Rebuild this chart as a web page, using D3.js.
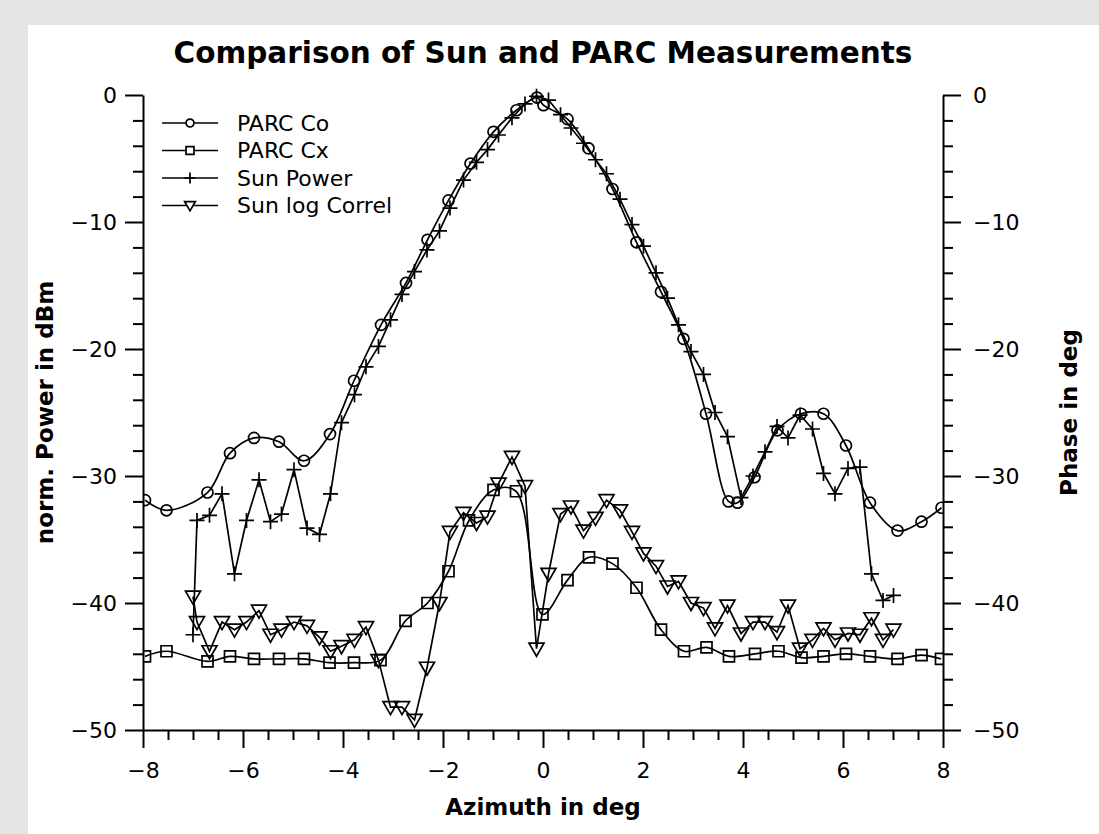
<!DOCTYPE html>
<html>
<head>
<meta charset="utf-8">
<script src="https://cdn.jsdelivr.net/npm/d3@7"></script>
<style>
  html, body { margin: 0; padding: 0; background: #e4e4e4; }
  svg { display: block; }
  text { font-family: "DejaVu Sans", sans-serif; fill: #000; }
</style>
</head>
<body>
<svg id="chart" width="1099" height="834"></svg>
<script>
// Azimuth samples (deg) for the PARC measurements
const parcCoAz = [-7.96, -7.53, -6.71, -6.26, -5.78, -5.28, -4.78, -4.26, -3.78, -3.24,
  -2.74, -2.31, -1.89, -1.45, -0.99, -0.53, -0.12, 0.01, 0.49, 0.91, 1.39, 1.87, 2.36,
  2.81, 3.26, 3.71, 3.89, 4.23, 4.69, 5.16, 5.61, 6.06, 6.54, 7.09, 7.57, 7.97];
const parcCo = [-31.9, -32.7, -31.3, -28.2, -27.0, -27.3, -28.8, -26.7, -22.5, -18.1,
  -14.8, -11.4, -8.3, -5.4, -2.9, -1.2, -0.2, -0.8, -1.9, -4.2, -7.4, -11.6, -15.5,
  -19.2, -25.1, -32.0, -32.1, -30.1, -26.4, -25.1, -25.1, -27.6, -32.1, -34.3, -33.6, -32.5];

const parcCxAz = [-7.96, -7.53, -6.71, -6.26, -5.78, -5.28, -4.78, -4.27, -3.78, -3.25,
  -2.75, -2.31, -1.89, -1.48, -0.99, -0.54, -0.01, 0.49, 0.92, 1.39, 1.87, 2.36, 2.82,
  3.27, 3.72, 4.24, 4.71, 5.17, 5.61, 6.06, 6.54, 7.09, 7.57, 7.96];
const parcCx = [-44.2, -43.8, -44.6, -44.2, -44.4, -44.4, -44.4, -44.7, -44.7, -44.5,
  -41.4, -40.0, -37.5, -33.5, -31.1, -31.2, -40.9, -38.2, -36.4, -36.9, -38.8, -42.1, -43.8,
  -43.5, -44.2, -44.0, -43.8, -44.3, -44.2, -44.0, -44.2, -44.4, -44.1, -44.4];

// Azimuth samples (deg) for the Sun scan
const sunAz = [-7.00, -6.92, -6.67, -6.42, -6.17, -5.93, -5.68, -5.45, -5.23, -4.98,
  -4.72, -4.47, -4.25, -4.03, -3.77, -3.54, -3.29, -3.05, -2.82, -2.57,
  -2.32, -2.07, -1.86, -1.59, -1.33, -1.11, -0.89, -0.62, -0.36, -0.13,
  0.11, 0.35, 0.56, 0.81, 1.05, 1.27, 1.54, 1.78, 2.01, 2.26,
  2.49, 2.71, 2.96, 3.21, 3.44, 3.69, 3.96, 4.20, 4.44, 4.68,
  4.90, 5.14, 5.39, 5.61, 5.84, 6.10, 6.34, 6.57, 6.80, 7.01];
const sunPower = [-42.5, -33.5, -33.1, -31.4, -37.7, -33.5, -30.3, -33.6, -33.0, -29.5,
  -34.1, -34.6, -31.4, -25.8, -23.6, -21.4, -19.8, -17.7, -15.7, -13.9,
  -12.2, -10.7, -8.9, -6.7, -5.3, -4.3, -3.15, -1.8, -0.7, -0.1,
  -0.4, -1.55, -2.6, -3.8, -5.1, -6.2, -8.2, -10.2, -11.9, -14.0,
  -16.0, -18.1, -20.2, -22.0, -25.0, -26.9, -31.7, -30.0, -28.1, -26.1,
  -27.0, -25.2, -26.3, -29.8, -31.4, -29.4, -29.3, -37.7, -39.8, -39.4];
const sunLogCorrel = [-39.5, -41.5, -43.8, -41.5, -42.1, -41.5, -40.6, -42.5, -42.1, -41.5,
  -41.8, -42.7, -43.8, -43.4, -42.9, -41.9, -44.5, -48.2, -48.2, -49.2,
  -45.1, -40.0, -34.4, -32.9, -33.7, -33.2, -30.6, -28.5, -30.8, -43.6,
  -37.7, -33.0, -32.4, -34.3, -33.3, -31.9, -32.7, -34.4, -36.1, -37.1,
  -38.7, -38.3, -40.0, -40.4, -42.0, -40.2, -42.4, -41.5, -41.5, -42.3,
  -40.2, -43.6, -42.9, -42.0, -42.9, -42.4, -42.5, -41.2, -42.9, -42.1];

const seriesNames = ["PARC Co", "PARC Cx", "Sun Power", "Sun log Correl"];
const xMajorTicks = [-8, -6, -4, -2, 0, 2, 4, 6, 8];
const yMajorTicks = [0, -10, -20, -30, -40, -50];

const svg = d3.select("#chart");
const W = 1099, H = 834;

// white panel
svg.append("rect").attr("x", 28).attr("y", 25).attr("width", W - 28).attr("height", H - 25)
  .attr("fill", "#ffffff");

const m = { left: 143, right: 943, top: 95, bottom: 730 };
const x = d3.scaleLinear().domain([-8, 8]).range([m.left, m.right]);
const y = d3.scaleLinear().domain([-50, 0]).range([m.bottom, m.top]);

const xMinor = d3.range(-8, 8.001, 0.5).filter(v => !xMajorTicks.includes(v));
const yMinor = d3.range(-50, 0.001, 2).filter(v => !yMajorTicks.includes(v));

const axisStroke = 2;
function styleAxis(g) {
  g.selectAll("path.domain").attr("stroke", "#000").attr("stroke-width", axisStroke);
  g.selectAll(".tick line").attr("stroke", "#000").attr("stroke-width", axisStroke);
  g.selectAll(".tick text").style("font-family", "DejaVu Sans").style("font-size", "22px").attr("fill", "#000");
}

// bottom axis
svg.append("g").attr("transform", `translate(0,${m.bottom})`)
  .call(d3.axisBottom(x).tickValues(xMinor).tickSize(10).tickSizeOuter(0).tickFormat(""))
  .call(styleAxis).call(g => g.select(".domain").remove());
svg.append("g").attr("transform", `translate(0,${m.bottom})`)
  .call(d3.axisBottom(x).tickValues(xMajorTicks).tickSize(18).tickSizeOuter(0).tickPadding(14).tickFormat(d3.format("d")))
  .call(styleAxis);

// left axis
svg.append("g").attr("transform", `translate(${m.left},0)`)
  .call(d3.axisLeft(y).tickValues(yMinor).tickSize(10).tickSizeOuter(0).tickFormat(""))
  .call(styleAxis).call(g => g.select(".domain").remove());
svg.append("g").attr("transform", `translate(${m.left},0)`)
  .call(d3.axisLeft(y).tickValues(yMajorTicks).tickSize(18).tickSizeOuter(0).tickPadding(8).tickFormat(d3.format("d")))
  .call(styleAxis);

// right axis
svg.append("g").attr("transform", `translate(${m.right},0)`)
  .call(d3.axisRight(y).tickValues(yMinor).tickSize(10).tickSizeOuter(0).tickFormat(""))
  .call(styleAxis).call(g => g.select(".domain").remove());
svg.append("g").attr("transform", `translate(${m.right},0)`)
  .call(d3.axisRight(y).tickValues(yMajorTicks).tickSize(18).tickSizeOuter(0).tickPadding(12).tickFormat(d3.format("d")))
  .call(styleAxis);

// titles
svg.append("text").attr("x", (m.left + m.right) / 2).attr("y", 63).attr("text-anchor", "middle")
  .style("font-size", "29.5px").style("font-weight", "bold").text("Comparison of Sun and PARC Measurements");
svg.append("text").attr("x", (m.left + m.right) / 2).attr("y", 815).attr("text-anchor", "middle")
  .style("font-size", "23px").style("font-weight", "bold").text("Azimuth in deg");
svg.append("text").attr("transform", `translate(53,${(m.top + m.bottom) / 2}) rotate(-90)`).attr("text-anchor", "middle")
  .style("font-size", "23px").style("font-weight", "bold").text("norm. Power in dBm");
svg.append("text").attr("transform", `translate(1077,${(m.top + m.bottom) / 2}) rotate(-90)`).attr("text-anchor", "middle")
  .style("font-size", "23px").style("font-weight", "bold").text("Phase in deg");

// plot clip
svg.append("clipPath").attr("id", "plotclip").append("rect")
  .attr("x", m.left).attr("y", m.top - 10).attr("width", m.right - m.left).attr("height", m.bottom - m.top + 10);
const plot = svg.append("g").attr("clip-path", "url(#plotclip)");

// marker shapes
const markers = {
  circle: (s) => { const r = 5.5 * s; return `M${r},0A${r},${r} 0 1,1 ${-r},0A${r},${r} 0 1,1 ${r},0Z`; },
  square: (s) => { const h = 5.5 * s; return `M${-h},${-h}H${h}V${h}H${-h}Z`; },
  plus: (s) => { const h = 7.5 * s; return `M${-h},0H${h}M0,${-h}V${h}`; },
  triangle: (s) => { const w = 7.5 * s, t = 5.5 * s, b = 7.5 * s; return `M${-w},${-t}H${w}L0,${b}Z`; }
};

const series = [
  { name: seriesNames[0], az: parcCoAz, val: parcCo, shape: "circle", curve: d3.curveCatmullRom.alpha(0.5) },
  { name: seriesNames[1], az: parcCxAz, val: parcCx, shape: "square", curve: d3.curveCatmullRom.alpha(0.5) },
  { name: seriesNames[2], az: sunAz, val: sunPower, shape: "plus", curve: d3.curveLinear },
  { name: seriesNames[3], az: sunAz, val: sunLogCorrel, shape: "triangle", curve: d3.curveLinear }
];

const lineW = 1.7;
series.forEach(s => {
  const pts = s.az.map((a, i) => [a, s.val[i]]);
  const line = d3.line().x(d => x(d[0])).y(d => y(d[1])).curve(s.curve);
  plot.append("path").datum(pts).attr("d", line).attr("fill", "none")
    .attr("stroke", "#000").attr("stroke-width", lineW);
  plot.selectAll(null).data(pts).join("path")
    .attr("transform", d => `translate(${x(d[0])},${y(d[1])})`)
    .attr("d", markers[s.shape](1)).attr("fill", "none")
    .attr("stroke", "#000").attr("stroke-width", lineW);
});

// legend
const legend = svg.append("g");
series.forEach((s, i) => {
  const ly = 123 + i * 27.5;
  legend.append("line").attr("x1", 162).attr("x2", 218).attr("y1", ly).attr("y2", ly)
    .attr("stroke", "#000").attr("stroke-width", lineW);
  legend.append("path").attr("transform", `translate(190,${ly})`).attr("d", markers[s.shape](0.72))
    .attr("fill", "#fff").attr("stroke", "#000").attr("stroke-width", lineW);
  legend.append("text").attr("x", 237).attr("y", ly).attr("dy", "0.36em")
    .style("font-size", "22px").text(s.name);
});
</script>
</body>
</html>
